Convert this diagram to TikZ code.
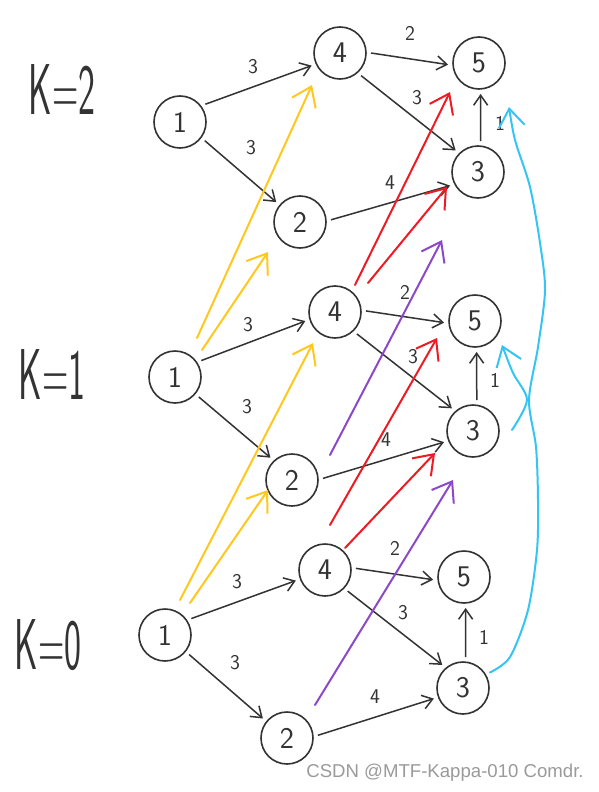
\documentclass[tikz,border=0pt]{standalone}
\usepackage{fontspec}
\newfontfamily\wmfont{Liberation Sans}
\usetikzlibrary{arrows.meta}
\definecolor{ink}{HTML}{333333}
\definecolor{yel}{HTML}{FFC81E}
\definecolor{redc}{HTML}{EE1B24}
\definecolor{purp}{HTML}{8B48C8}
\definecolor{bluc}{HTML}{35C5F5}
\definecolor{wm}{HTML}{9A9A9A}
\begin{document}
\begin{tikzpicture}[x=1pt,y=-1pt,
  vert/.style={circle,draw=ink,line width=1.6pt,minimum size=52pt,inner sep=0pt,outer sep=5pt,
    font=\sffamily\fontsize{30}{30}\selectfont,text=ink},
  blk/.style={draw=ink,line width=1.5pt,-{Straight Barb[length=10pt,width=14pt]}},
  wlab/.style={font=\sffamily\fontsize{21}{21}\selectfont,text=ink,inner sep=0pt},
  klab/.style={font=\sffamily\fontsize{72}{72}\selectfont,text=ink,inner sep=0pt},
  hl/.style={line width=2pt,line cap=round,-{Straight Barb[length=18pt,width=26pt]}},
]
\fill[white] (0,0) rectangle (599,792);
\useasboundingbox (0,0) rectangle (599,792);

% level labels
\node[klab] (k2) at (62,90) {\scalebox{0.5}[1]{K=2}};
\node[klab] (k1) at (52,375) {\scalebox{0.5}[1]{K=1}};
\node[klab] (k0) at (48,645) {\scalebox{0.5}[1]{K=0}};

% K=2
\node[vert] (a1) at (180,122) {1};
\node[vert] (a4) at (340,53) {4};
\node[vert] (a5) at (479,63) {5};
\node[vert] (a3) at (478,172) {3};
\node[vert] (a2) at (300,222) {2};
% K=1
\node[vert] (b1) at (175,377) {1};
\node[vert] (b4) at (335,312) {4};
\node[vert] (b5) at (475,321) {5};
\node[vert] (b3) at (473,431) {3};
\node[vert] (b2) at (292,480) {2};
% K=0
\node[vert] (c1) at (165,635) {1};
\node[vert] (c4) at (325,570) {4};
\node[vert] (c5) at (464,577) {5};
\node[vert] (c3) at (463,688) {3};
\node[vert] (c2) at (287,738) {2};

% black edges K=2
\draw[blk] (a1.35) -- (a4.204);
\draw[blk] (a1.-37) -- (a2.140);
\draw[blk] (a4.0) -- (a5.183);
\draw[blk] (a4.-47) -- (a3.136);
\draw[blk] (a2.4) -- (a3.206);
\draw[blk] (a3.85) -- (a5.273);
% K=1
\draw[blk] (b1.32) -- (b4.197);
\draw[blk] (b1.-40) -- (b2.134);
\draw[blk] (b4.2) -- (b5.183);
\draw[blk] (b4.-45) -- (b3.133);
\draw[blk] (b2.3) -- (b3.201);
\draw[blk] (b3.83) -- (b5.273);
% K=0
\draw[blk] (c1.32) -- (c4.200);
\draw[blk] (c1.-39) -- (c2.141);
\draw[blk] (c4.3) -- (c5.185);
\draw[blk] (c4.-43) -- (c3.132);
\draw[blk] (c2.5) -- (c3.200);
\draw[blk] (c3.85) -- (c5.273);

% weights
\node[wlab] (wa14) at (253,67) {3};
\node[wlab] (wa12) at (251,148) {3};
\node[wlab] (wa45) at (410,33) {2};
\node[wlab] (wa43) at (417,98) {3};
\node[wlab] (wa23) at (390,183) {4};
\node[wlab] (wa35) at (500,123) {1};
\node[wlab] (wb14) at (248,325) {3};
\node[wlab] (wb12) at (247,407) {3};
\node[wlab] (wb45) at (405,292) {2};
\node[wlab] (wb43) at (413,357) {3};
\node[wlab] (wb23) at (386,440) {4};
\node[wlab] (wb35) at (495,380) {1};
\node[wlab] (wc14) at (237,582) {3};
\node[wlab] (wc12) at (235,663) {3};
\node[wlab] (wc45) at (395,548) {2};
\node[wlab] (wc43) at (403,613) {3};
\node[wlab] (wc23) at (375,697) {4};
\node[wlab] (wc35) at (484,637) {1};

% free ends of the coloured strokes
\coordinate (y1s) at (197,338); \coordinate (y1e) at (312,85);
\coordinate (y2s) at (202,350); \coordinate (y2e) at (268,252);
\coordinate (y3s) at (180,600); \coordinate (y3e) at (313,343);
\coordinate (y4s) at (190,603); \coordinate (y4e) at (268,490);
\coordinate (r1s) at (355,285); \coordinate (r1e) at (450,92);
\coordinate (r2s) at (368,283); \coordinate (r2e) at (447,187);
\coordinate (r3s) at (330,525); \coordinate (r3e) at (437,338);
\coordinate (r4s) at (345,548); \coordinate (r4e) at (435,453);
\coordinate (p1s) at (330,455); \coordinate (p1e) at (442,240);
\coordinate (p2s) at (315,705); \coordinate (p2e) at (453,480);
\coordinate (bl1e) at (509,107);
\coordinate (bl2s) at (512,430); \coordinate (bl2e) at (502,345);

% yellow
\draw[hl,yel] (y1s) -- (y1e);
\draw[hl,yel] (y2s) -- (y2e);
\draw[hl,yel] (y3s) -- (y3e);
\draw[hl,yel] (y4s) -- (y4e);
% red
\draw[hl,redc] (r1s) -- (r1e);
\draw[hl,redc] (r2s) -- (r2e);
\draw[hl,redc] (r3s) -- (r3e);
\draw[hl,redc] (r4s) -- (r4e);
% purple
\draw[hl,purp] (p1s) -- (p1e);
\draw[hl,purp] (p2s) -- (p2e);
% blue
\draw[hl,bluc] plot[smooth] coordinates {(c3.30) (510,657) (528,610) (537,550) (538,500) (536,447) (529,400) (538,347) (545,290) (540,243) (530,187) (515,140) (bl1e)};
\draw[hl,bluc] plot[smooth] coordinates {(bl2s) (527,400) (513,373) (bl2e)};

% watermark
\node[font=\wmfont\fontsize{18.6}{20}\selectfont,text=wm,inner sep=0pt] (wmk) at (445,773) {CSDN @MTF-Kappa-010 Comdr.};
\end{tikzpicture}
\end{document}
